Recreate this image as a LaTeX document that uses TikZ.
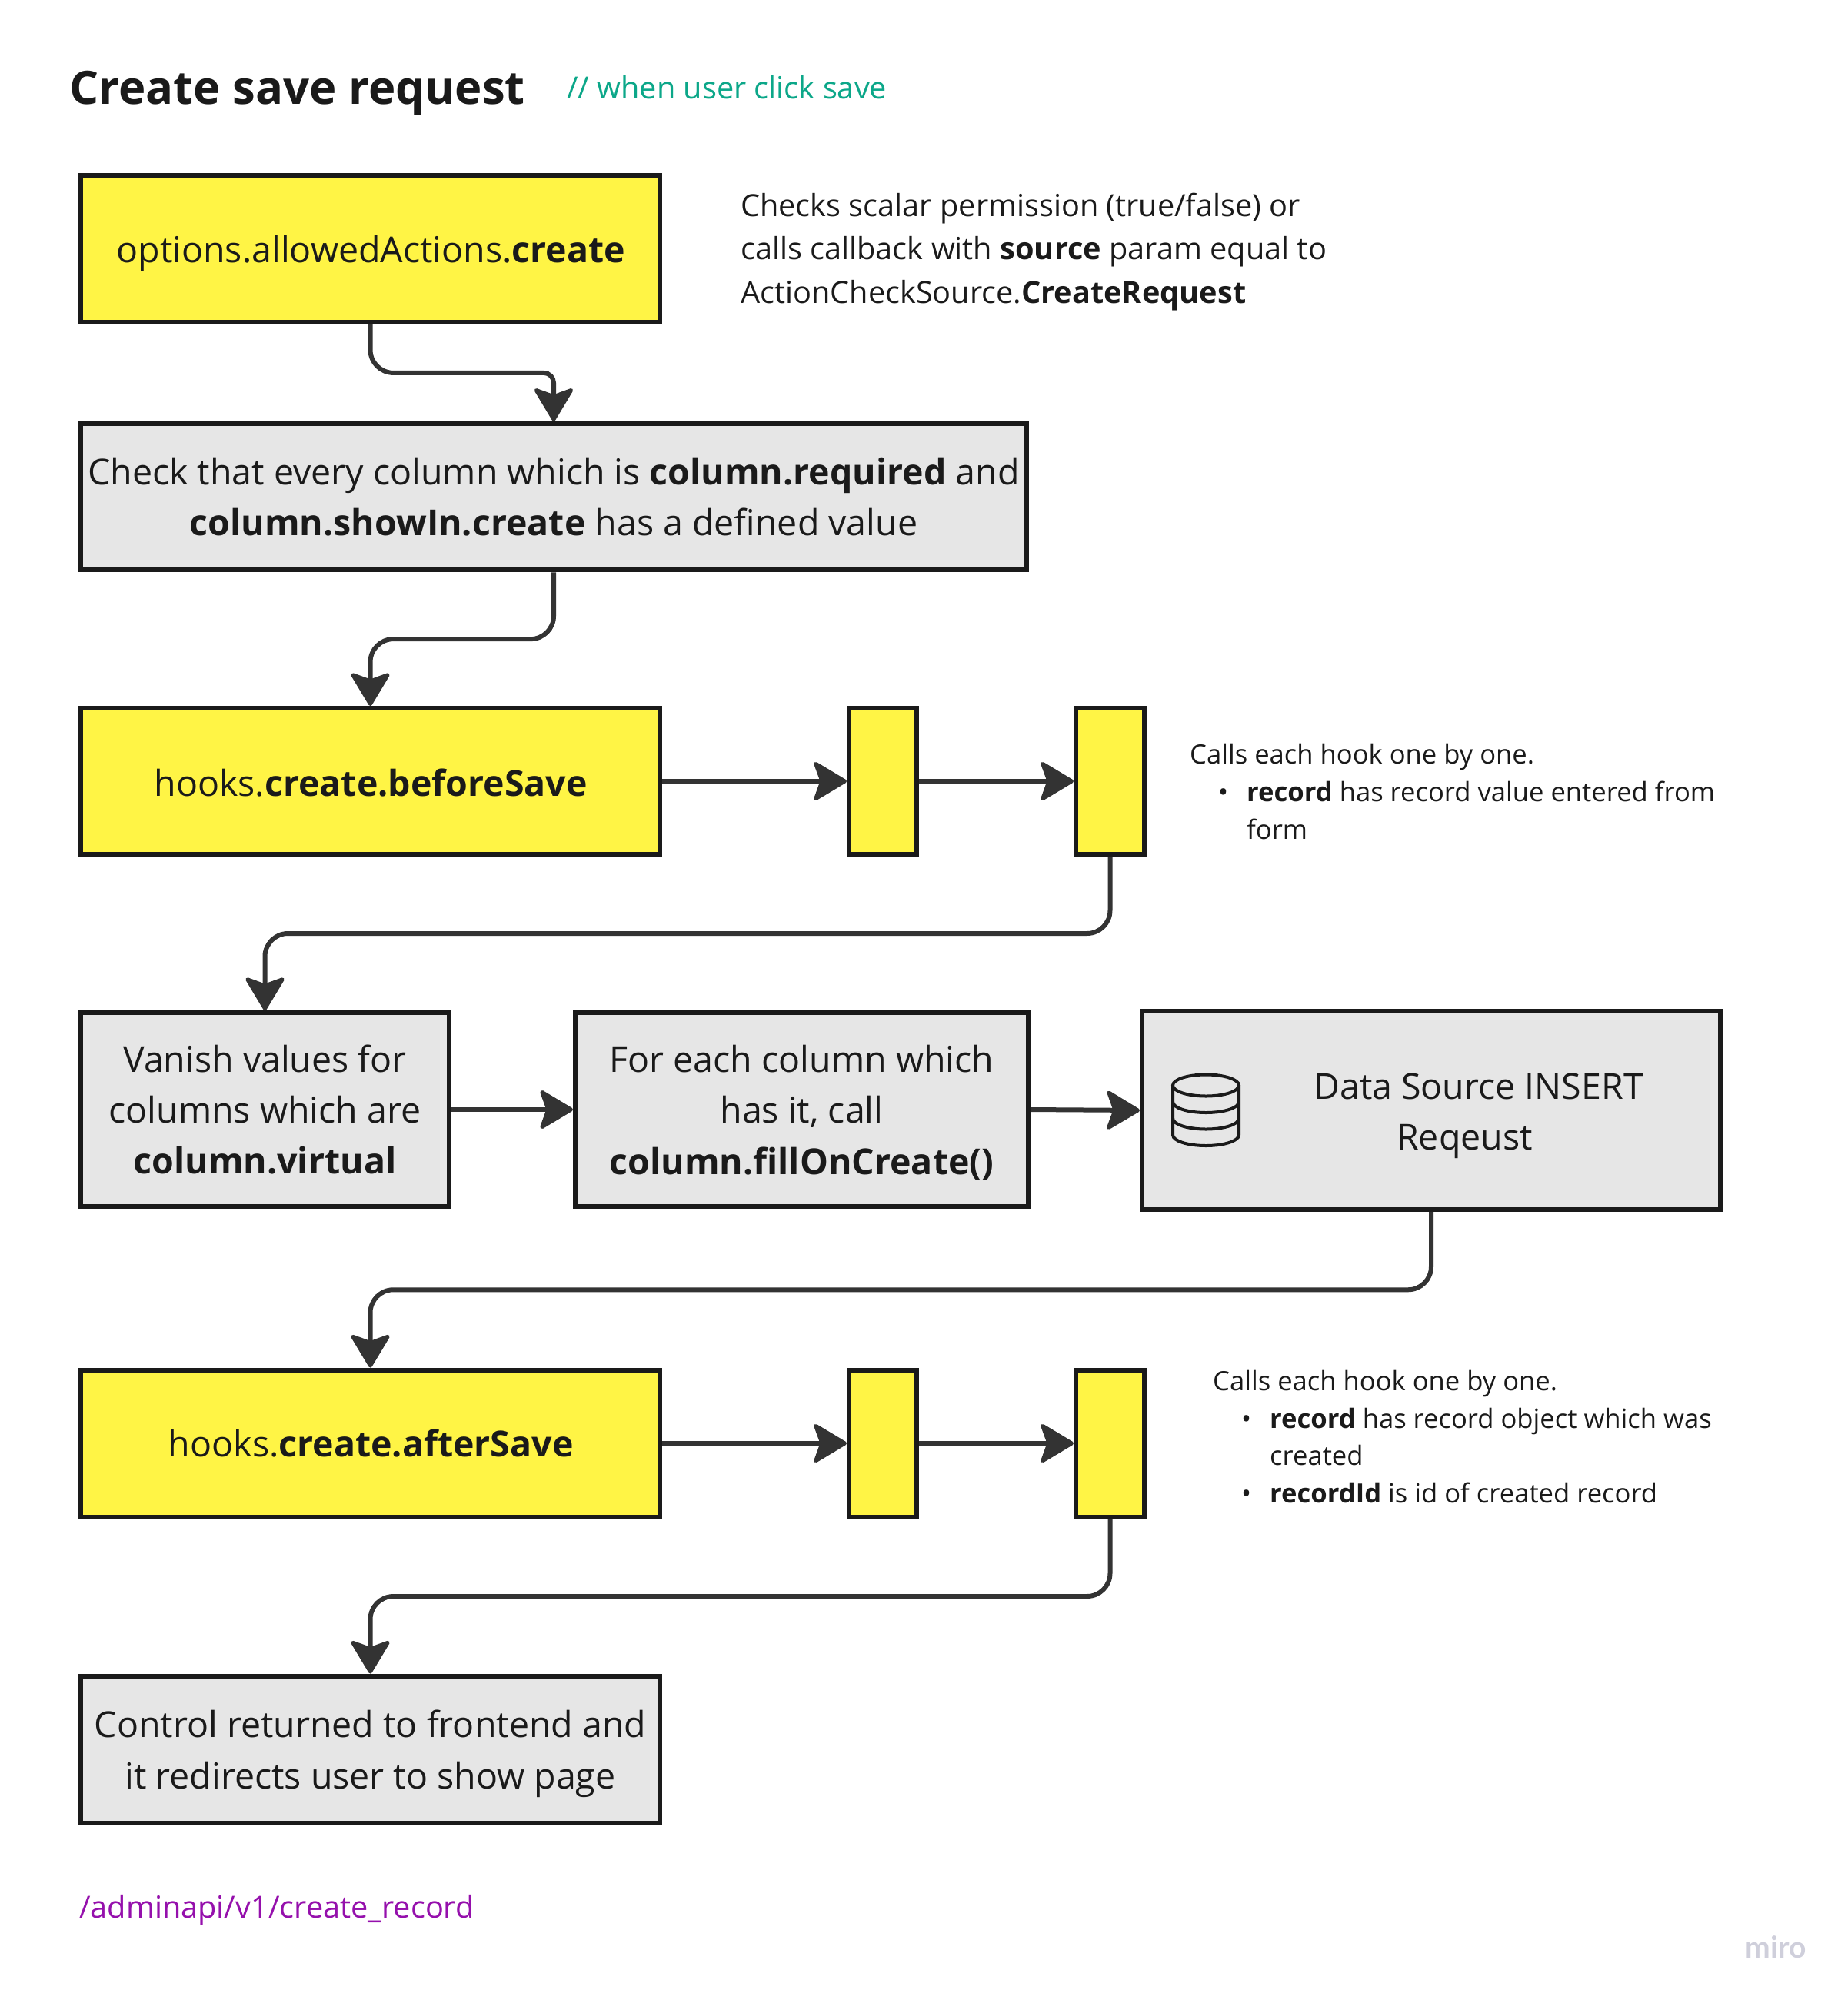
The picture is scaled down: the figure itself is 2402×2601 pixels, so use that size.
\documentclass[tikz,border=0pt]{standalone}
\usepackage{fontspec}
\setmainfont{Open Sans}
\newfontfamily\mirofont{Lato}
\usetikzlibrary{arrows.meta,calc}
\definecolor{ink}{HTML}{1A1A1A}
\definecolor{wire}{HTML}{333333}
\definecolor{yel}{HTML}{FFF445}
\definecolor{gry}{HTML}{E6E6E6}
\definecolor{grn}{HTML}{0CA789}
\definecolor{pur}{HTML}{9510AC}
\definecolor{wm}{HTML}{CFCFDB}
\tikzset{
  boxbase/.style={draw=ink,line width=6pt,inner sep=0pt,align=center,text=ink,font=\fontsize{46.5}{66.4}\selectfont},
  yelbox/.style={boxbase,fill=yel},
  grybox/.style={boxbase,fill=gry},
  conn/.style={draw=wire,line width=6pt,rounded corners=30pt,-{Stealth[length=47pt,width=56pt,inset=10pt,line width=5pt,round]}},
  notea/.style={inner sep=0pt,anchor=west,align=left,text=ink,font=\fontsize{39.7}{56.6}\selectfont},
  noteb/.style={inner sep=0pt,anchor=west,align=left,text=ink,font=\fontsize{34.6}{48.9}\selectfont},
}
\newcommand{\bltitem}{\makebox[37pt][l]{}\makebox[37pt][l]{\textbullet}}
\newcommand{\indentitem}{\makebox[74pt][l]{}}
\begin{document}
\begin{tikzpicture}[x=1pt,y=-1pt]
\useasboundingbox (0,0) rectangle (2402,2601);
\node[anchor=base west,inner sep=0pt,text=ink,font=\fontsize{59.8}{70}\selectfont\bfseries] (title) at (90,136) {Create save request};
\node[anchor=base west,inner sep=0pt,text=grn,font=\fontsize{39.7}{56}\selectfont] (sub) at (737,129) {// when user click save};
\node[yelbox,minimum width=753pt,minimum height=191pt] (b1) at (481.5,323.5) {\raisebox{-17.7pt}[0pt][0pt]{\hspace*{1.5pt}options.allowedActions.\textbf{create}}};
\node[grybox,minimum width=1230pt,minimum height=190.5pt] (b2) at (720,646) {Check that every column which is \textbf{column.required} and\\\raisebox{0pt}[\height][0pt]{\textbf{column.showIn.create} has a defined value}};
\node[yelbox,minimum width=753pt,minimum height=190pt] (b3) at (481.5,1016) {\raisebox{-19.5pt}[0pt][0pt]{\hspace*{1.5pt}hooks.\textbf{create.beforeSave}}};
\node[yelbox,minimum width=88pt,minimum height=190pt] (s1) at (1148,1016) {};
\node[yelbox,minimum width=89pt,minimum height=190pt] (s2) at (1443.5,1016) {};
\node[grybox,minimum width=479pt,minimum height=252pt] (v) at (344.5,1443) {Vanish values for\\columns which are\\\textbf{column.virtual}};
\node[grybox,minimum width=589pt,minimum height=252pt] (f) at (1042.5,1443) {For each column which\\has it, call\\\raisebox{0pt}[\height][0pt]{\textbf{column.fillOnCreate()}}};
\node[grybox,minimum width=752pt,minimum height=258pt] (d) at (1861,1444) {};
\node[inner sep=0pt,align=center,text=ink,font=\fontsize{46.5}{66.4}\selectfont] (dt) at (1922.5,1451) {Data Source INSERT\\Reqeust\hspace*{36pt}};
\node[yelbox,minimum width=753pt,minimum height=191pt] (b4) at (481.5,1877) {\raisebox{-17.7pt}[0pt][0pt]{\hspace*{1.5pt}hooks.\textbf{create.afterSave}}};
\node[yelbox,minimum width=88pt,minimum height=191pt] (s3) at (1148,1877) {};
\node[yelbox,minimum width=89pt,minimum height=191pt] (s4) at (1443.5,1877) {};
\node[grybox,minimum width=753pt,minimum height=191pt] (c) at (481.5,2275) {Control returned to frontend and\\\raisebox{0pt}[\height][0pt]{it redirects user to show page}};
\node[notea] (n1) at (963,327.5) {Checks scalar permission (true/false) or\\calls callback with \textbf{source} param equal to\\ActionCheckSource.\textbf{CreateRequest}};
\node[noteb] (n2) at (1547,1029.5) {Calls each hook one by one.\\\bltitem\textbf{record} has record value entered from\\\indentitem form};
\node[noteb] (n3) at (1577,1868.5) {Calls each hook one by one.\\\bltitem\textbf{record} has record object which was\\\indentitem created\\\bltitem\textbf{recordId} is id of created record};
\node[anchor=west,inner sep=0pt,text=pur,font=\fontsize{39.7}{56}\selectfont] (p) at (103,2484) {/adminapi/v1/create\_record};
\node[inner sep=0pt,text=wm,font=\fontsize{39}{44}\selectfont\mirofont\bfseries] (w) at (2309,2532) {miro};
% database icon
\begin{scope}[draw=ink,line width=4pt]
\draw (1568,1411.5) ellipse [x radius=43,y radius=14];
\draw (1525,1411.5) -- (1525,1476) arc [start angle=180,end angle=0,x radius=43,y radius=14] -- (1611,1411.5);
\draw (1525,1433) arc [start angle=180,end angle=0,x radius=43,y radius=14];
\draw (1525,1454.5) arc [start angle=180,end angle=0,x radius=43,y radius=14];
\end{scope}
% connectors
\draw[conn] (b1.south) |- ($(b1.south)!.5!(b2.north)$) [rounded corners=13pt] -| (b2.north);
\draw[conn] (b2.south) |- ($(b2.south)!.5!(b3.north)$) -| (b3.north);
\draw[conn] (b3.east) -- (s1.west);
\draw[conn] (s1.east) -- (s2.west);
\draw[conn] (s2.south) |- ($(s2.south)!.5!(v.north)$) -| (v.north);
\draw[conn] (v.east) -- (f.west);
\draw[conn] (f.east) -- (d.west);
\draw[conn] (d.south) |- ($(d.south)!.5!(b4.north)$) -| (b4.north);
\draw[conn] (b4.east) -- (s3.west);
\draw[conn] (s3.east) -- (s4.west);
\draw[conn] (s4.south) |- ($(s4.south)!.5!(c.north)$) -| (c.north);
\end{tikzpicture}
\end{document}
